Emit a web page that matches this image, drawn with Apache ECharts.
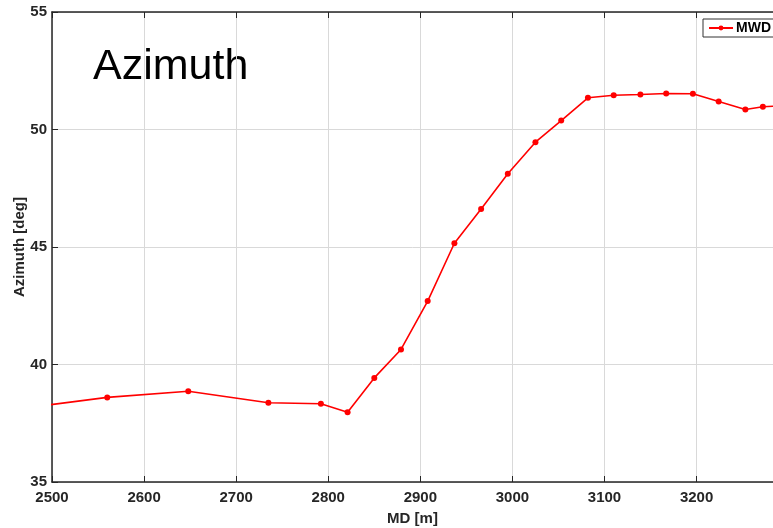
<!DOCTYPE html>
<html>
<head>
<meta charset="utf-8">
<script src="https://cdn.jsdelivr.net/npm/echarts@6/dist/echarts.min.js"></script>
<style>
  html, body { margin: 0; padding: 0; background: #fff; }
  #chart { width: 773px; height: 528px; }
</style>
</head>
<body>
<div id="chart"></div>
<script>
// measured depth [m] of each MWD survey station
const mdValues = [
  2470, 2560, 2648, 2735, 2792, 2821, 2850, 2879, 2908, 2937, 2966,
  2995, 3025, 3053, 3082, 3110, 3139, 3167, 3196, 3224, 3253, 3272, 3300
];
// azimuth [deg] at each station
const azimuthValues = [
  38.15, 38.60, 38.86, 38.37, 38.33, 37.97, 39.43, 40.64, 42.70, 45.16, 46.62,
  48.12, 49.46, 50.38, 51.35, 51.46, 51.49, 51.53, 51.52, 51.19, 50.85, 50.97, 51.02
];
const seriesName = "MWD";

const chart = echarts.init(document.getElementById("chart"));

const font = "Liberation Sans, Arial, sans-serif";
const axisColor = "#262626";
const gridColor = "#d9d9d9";

chart.setOption({
  backgroundColor: "#fff",
  animation: false,
  grid: {
    left: 52,
    right: 0,
    top: 12,
    bottom: 46,
    outerBoundsMode: "none",
    containLabel: false,
  },
  graphic: [
    {
      type: "text",
      left: 93,
      top: 46,
      style: {
        text: "Azimuth",
        font: "43px " + font,
        fill: "#000",
      },
    },
  ],
  legend: {
    data: [seriesName],
    left: 703,
    top: 19,
    padding: [2, 5, 2, 5],
    itemWidth: 24,
    itemHeight: 6,
    itemGap: 4,
    borderColor: "#333",
    borderWidth: 1,
    backgroundColor: "#fff",
    textStyle: {
      fontFamily: font,
      fontWeight: "bold",
      fontSize: 14,
      color: "#000",
      padding: [0, 0, 0, -2],
    },
  },
  xAxis: [
    {
      type: "value",
      min: 2500,
      max: 3283,
      interval: 100,
      name: "MD [m]",
      nameLocation: "middle",
      nameGap: 29,
      nameMoveOverlap: false,
      nameTextStyle: {
        fontFamily: font,
        fontWeight: "bold",
        fontSize: 15,
        color: axisColor,
      },
      axisLine: { show: true, onZero: false, lineStyle: { color: axisColor, width: 1.5 } },
      axisTick: { show: true, inside: true, length: 6, lineStyle: { color: axisColor } },
      axisLabel: {
        fontFamily: font,
        fontWeight: "bold",
        fontSize: 15,
        color: axisColor,
        margin: 8,
        showMaxLabel: false,
        formatter: (v) => String(v),
      },
      splitLine: { show: true, lineStyle: { color: gridColor } },
    },
    {
      type: "value",
      position: "top",
      min: 2500,
      max: 3283,
      interval: 100,
      axisLine: { show: true, onZero: false, lineStyle: { color: axisColor, width: 1.5 } },
      axisTick: { show: true, inside: true, length: 6, lineStyle: { color: axisColor } },
      axisLabel: { show: false },
      splitLine: { show: false },
    },
  ],
  yAxis: {
    type: "value",
    min: 35,
    max: 55,
    interval: 5,
    name: "Azimuth [deg]",
    nameLocation: "middle",
    nameGap: 25,
    nameMoveOverlap: false,
    nameTextStyle: {
      fontFamily: font,
      fontWeight: "bold",
      fontSize: 15,
      color: axisColor,
    },
    axisLine: { show: true, onZero: false, lineStyle: { color: axisColor, width: 1.5 } },
    axisTick: { show: true, inside: true, length: 6, lineStyle: { color: axisColor } },
    axisLabel: {
      fontFamily: font,
      fontWeight: "bold",
      fontSize: 15,
      color: axisColor,
      margin: 5,
    },
    splitLine: { show: true, lineStyle: { color: gridColor } },
  },
  series: [
    {
      name: seriesName,
      type: "line",
      data: mdValues.map((md, i) => [md, azimuthValues[i]]),
      clip: true,
      symbol: "circle",
      symbolSize: 6,
      showAllSymbol: true,
      lineStyle: { color: "#ff0000", width: 1.6 },
      itemStyle: { color: "#ff0000" },
    },
  ],
});
</script>
</body>
</html>
